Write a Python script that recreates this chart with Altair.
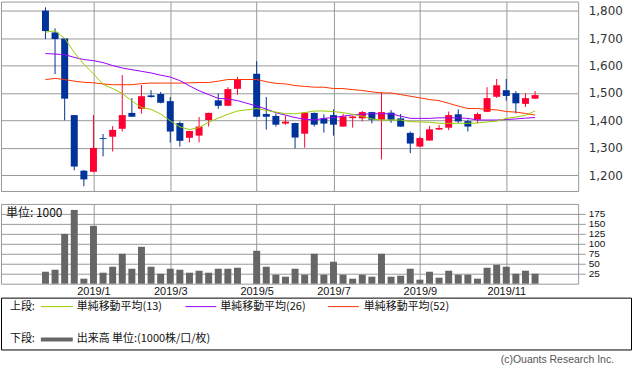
import altair as alt
import pandas as pd

# ---------------- data (weekly candles) ----------------
weeks = ["2018-12-03", "2018-12-10", "2018-12-17", "2018-12-24", "2018-12-31", "2019-01-07",
         "2019-01-14", "2019-01-21", "2019-01-28", "2019-02-04", "2019-02-11", "2019-02-18",
         "2019-02-25", "2019-03-04", "2019-03-11", "2019-03-18", "2019-03-25", "2019-04-01",
         "2019-04-08", "2019-04-15", "2019-04-22", "2019-04-29", "2019-05-06", "2019-05-13",
         "2019-05-20", "2019-05-27", "2019-06-03", "2019-06-10", "2019-06-17", "2019-06-24",
         "2019-07-01", "2019-07-08", "2019-07-15", "2019-07-22", "2019-07-29", "2019-08-05",
         "2019-08-12", "2019-08-19", "2019-08-26", "2019-09-02", "2019-09-09", "2019-09-16",
         "2019-09-23", "2019-09-30", "2019-10-07", "2019-10-14", "2019-10-21", "2019-10-28",
         "2019-11-04", "2019-11-11", "2019-11-18", "2019-11-25"]

opens = [1801, 1721, 1699, 1419, 1216, 1212, 1335, 1340, 1369, 1427, 1442, 1491, 1496, 1470,
         1390, 1336, 1344, 1401, 1473, 1453, 1515, None, 1570, 1423, 1416, 1388, 1390, 1351,
         1427, 1407, 1419, 1377, 1408, 1407, 1430, 1402, 1428, 1407, 1354, 1304, 1326, 1366,
         1373, 1422, 1397, 1402, 1431, 1486, 1510, 1499, 1460, 1479]
highs = [1813, 1736, 1700, 1420, 1218, 1419, 1350, 1379, 1565, 1481, 1529, 1510, 1503, 1485,
         1396, 1362, 1412, 1428, 1498, 1521, 1559, None, 1616, 1485, 1425, 1417, 1391, 1429,
         1428, 1422, 1440, 1424, 1417, 1434, 1431, 1503, 1437, 1423, 1359, 1340, 1379, 1383,
         1432, 1440, 1403, 1428, 1521, 1551, 1551, 1507, 1499, 1507]
lows = [1697, 1569, 1400, 1217, 1159, 1210, 1268, 1286, 1359, 1412, 1424, 1483, 1462, 1319,
        1304, 1319, 1319, 1377, 1442, 1452, 1493, None, 1412, 1366, 1377, 1384, 1297, 1300,
        1377, 1355, 1344, 1376, 1373, 1396, 1389, 1257, 1391, 1376, 1280, 1303, 1325, 1365,
        1364, 1390, 1359, 1390, 1430, 1482, 1471, 1425, 1449, 1478]
closes = [1726, 1697, 1479, 1231, 1184, 1299, 1332, 1365, 1419, 1413, 1488, 1485, 1464, 1359,
          1325, 1361, 1377, 1427, 1453, 1514, 1549, None, 1413, 1413, 1384, 1395, 1337, 1428,
          1384, 1388, 1384, 1414, 1414, 1430, 1402, 1430, 1402, 1377, 1315, 1335, 1367, 1372,
          1419, 1396, 1377, 1423, 1481, 1528, 1489, 1462, 1481, 1492]
volumes = [30, 35, 125, 185, 12.5, 145, 27.5, 42.5, 75, 37.5, 92.5, 42.5, 25, 37.5, 35, 27.5,
           32.5, 27.5, 37.5, 37.5, 40, None, 82.5, 42.5, 22.5, 17.5, 37.5, 22.5, 75, 22.5, 55,
           22.5, 12.5, 22.5, 17.5, 75, 17.5, 20, 37.5, 10, 30, 15, 32.5, 22.5, 22.5, 12.5, 40,
           47.5, 42.5, 25, 32.5, 25]
ma13 = [1722, 1727, 1700, 1648, 1605, 1570, 1531, 1516, 1498, 1471, 1447, 1440, 1423, 1398,
        1376, 1366, 1373, 1393, 1408, 1422, 1434, None, 1443, 1436, 1430, 1424, 1424, 1428,
        1434, 1434, 1432, 1428, 1422, 1415, 1405, 1401, 1401, 1401, 1395, 1394, 1393, 1389,
        1389, 1389, 1389, 1390, 1394, 1397, 1407, 1412, 1418, 1434]
ma26 = [1644, 1642, 1640, 1630, 1622, 1618, 1611, 1600, 1591, 1585, 1579, 1573, 1565, 1558,
        1545, 1526, 1508, 1494, 1480, 1478, 1472, None, 1452, 1441, 1428, 1419, 1410, 1404,
        1401, 1407, 1410, 1415, 1420, 1422, 1424, 1424, 1424, 1415, 1407, 1407, 1407, 1409,
        1409, 1409, 1407, 1401, 1401, 1401, 1403, 1405, 1408, 1410]
ma52 = [1549, 1553, 1549, 1543, 1539, 1537, 1533, 1530, 1530, 1530, 1534, 1536, 1536, 1536,
        1536, 1537, 1538, 1538, 1543, 1549, 1549, None, 1549, 1541, 1535, 1533, 1527, 1524,
        1521, 1521, 1516, 1516, 1512, 1509, 1504, 1500, 1500, 1494, 1488, 1482, 1476, 1472,
        1462, 1452, 1443, 1443, 1440, 1438, 1432, 1430, 1425, 1419]

tick_index = [5, 13, 22, 30, 39, 48]
tick_labels = ["2019/1", "2019/3", "2019/5", "2019/7", "2019/9", "2019/11"]
price_ticks = [1200, 1300, 1400, 1500, 1600, 1700, 1800]
volume_ticks = [25, 50, 75, 100, 125, 150, 175]
legend_top = "上段:"
legend_bottom = "下段:"
ma_labels = ["単純移動平均(13)", "単純移動平均(26)", "単純移動平均(52)"]
volume_label = "出来高 単位:(1000株/口/枚)"
unit_label = "単位: 1000"
copyright_text = "(c)Ouants Research Inc."

# ---------------- table ----------------
df = pd.DataFrame({
    "i": list(range(len(weeks))), "week": weeks,
    "open": opens, "high": highs, "low": lows, "close": closes,
    "volume": volumes, "ma13": ma13, "ma26": ma26, "ma52": ma52,
})
df = df.dropna(subset=["open"]).reset_index(drop=True)
df["dir"] = ["up" if c >= o else "down" for o, c in zip(df["open"], df["close"])]

RED = "#ff0033"
BLUE = "#003399"
GRID = "#999999"
C13, C26, C52 = "#99cc00", "#9900ff", "#ff3300"

label_expr = " : ".join(
    f"datum.value == {v} ? '{t}'" for v, t in zip(tick_index, tick_labels)) + " : ''"

xscale = alt.Scale(domain=[-4.112, 54.97], nice=False, zero=False)
pscale = alt.Scale(domain=[1141.7, 1833.9], nice=False, zero=False)
vscale = alt.Scale(domain=[0, 200], nice=False, zero=False)
cscale = alt.Scale(domain=["up", "down"], range=[RED, BLUE])

x_top_axis = alt.Axis(values=tick_index, grid=True, gridColor=GRID, labels=False,
                      ticks=False, domain=False, minExtent=0, maxExtent=0, title=None)
y_price_axis = alt.Axis(values=price_ticks, format=",d", orient="right", grid=True,
                        gridColor=GRID, ticks=False, domain=False, labelPadding=10,
                        labelFont="DejaVu Sans", labelFontSize=12, labelColor="#333333",
                        labelOverlap=False, title=None)


def xp():
    return alt.X("i:Q", scale=xscale, axis=x_top_axis, title=None)


def yp(field):
    return alt.Y(f"{field}:Q", scale=pscale, axis=y_price_axis, title=None)


base = alt.Chart(df)
wicks = base.mark_rule(strokeWidth=1).encode(
    x=xp(), y=yp("low"), y2="high:Q",
    color=alt.Color("dir:N", scale=cscale, legend=None),
)
bodies = base.mark_bar(size=7).encode(
    x=xp(), y=yp("open"), y2="close:Q",
    color=alt.Color("dir:N", scale=cscale, legend=None),
)
lines = [
    base.mark_line(strokeWidth=1, color=c).encode(x=xp(), y=yp(f))
    for f, c in [("ma52", C52), ("ma26", C26), ("ma13", C13)]
]
top = alt.layer(wicks, bodies, *lines).properties(width=579, height=190)

# ---------------- volume panel ----------------
x_vol = alt.X("i:Q", scale=xscale, title=None,
              axis=alt.Axis(values=tick_index, labelExpr=label_expr, grid=True,
                            gridColor=GRID, ticks=False, domain=False, labelPadding=2,
                            labelFont="Liberation Sans", labelFontSize=11,
                            labelColor="#111111", labelBaseline="top",
                            labelOverlap=False))
vol_bars = base.mark_bar(size=7, color="#666666").encode(
    x=x_vol,
    y=alt.Y("volume:Q", scale=vscale, title=None,
            axis=alt.Axis(values=volume_ticks, orient="right", grid=True, gridColor=GRID,
                          tickColor=GRID, tickSize=7, domain=False, labelPadding=3,
                          labelFont="Liberation Sans", labelFontSize=10,
                          labelColor="#111111", labelOverlap=False)),
)

one = alt.Chart(alt.InlineData(values=[{"k": 1}]))
JP = "Noto Sans CJK JP"


def txt(s, x, y, size=11, align="left", color="#111111", font=JP):
    return one.mark_text(align=align, baseline="middle", fontSize=size, font=font,
                         color=color).encode(x=alt.value(x), y=alt.value(y),
                                             text=alt.value(s))


def seg(x1, x2, y, color, w):
    return one.mark_rule(color=color, strokeWidth=w).encode(
        x=alt.value(x1), x2=alt.value(x2), y=alt.value(y))


box = one.mark_rect(fill="transparent", stroke="#000000", strokeWidth=1).encode(
    x=alt.value(0.5), x2=alt.value(632.5), y=alt.value(94.5), y2=alt.value(146.5))

deco = [
    txt(unit_label, 5, 9, size=12),
    box,
    txt(legend_top, 9, 103),
    seg(40, 72, 103, C13, 1), txt(ma_labels[0], 76, 103),
    seg(185, 216, 103, C26, 1), txt(ma_labels[1], 220, 103),
    seg(328, 359, 103, C52, 1), txt(ma_labels[2], 364, 103),
    txt(legend_bottom, 9, 136),
    seg(40, 72, 136, "#666666", 4), txt(volume_label, 76, 136),
    txt(copyright_text, 615, 157, size=10.5, align="right", color="#555555",
        font="Liberation Sans"),
]

vol = alt.layer(vol_bars, *deco).properties(width=579, height=80)

chart = alt.vconcat(top, vol, spacing=11).properties(padding=0).configure_view(
    stroke=GRID, strokeWidth=1
).configure_axis(minExtent=0)

chart.save("out.html", embed_options={"renderer": "svg", "actions": False})
